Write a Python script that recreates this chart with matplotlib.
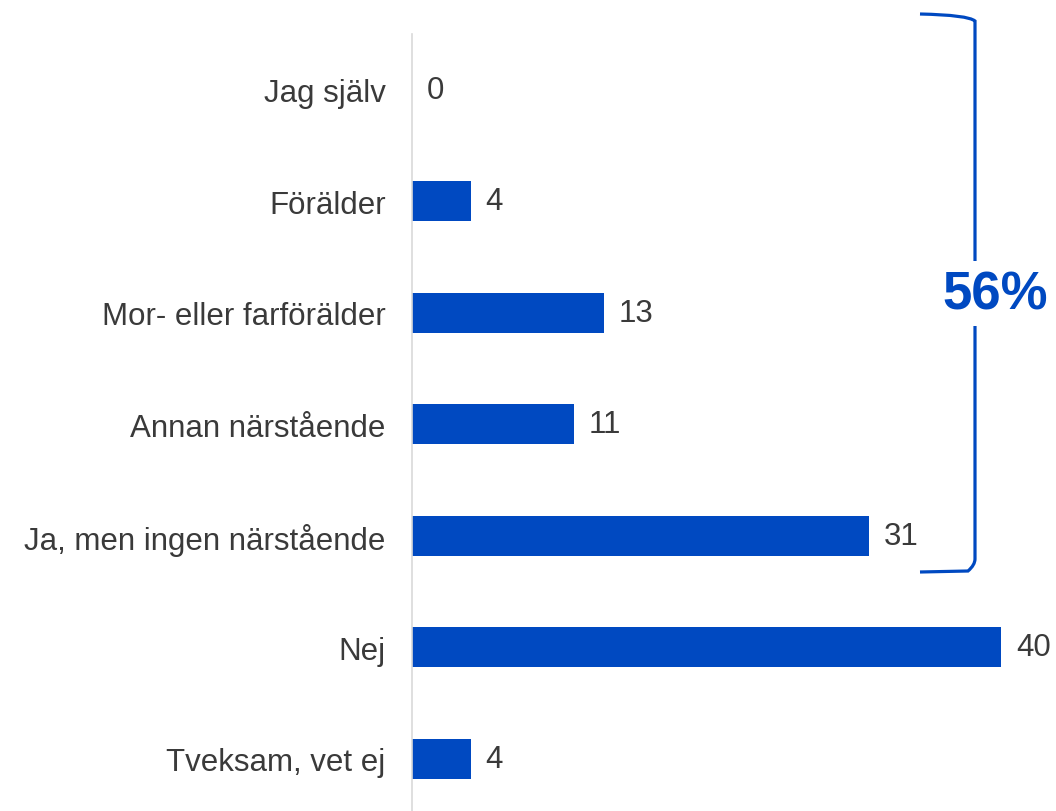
import matplotlib.pyplot as plt
from matplotlib.path import Path
from matplotlib.patches import PathPatch

plt.rcParams['font.family'] = ['Liberation Sans', 'DejaVu Sans']

# data
categories = ['Jag själv', 'Förälder', 'Mor- eller farförälder', 'Annan närstående',
              'Ja, men ingen närstående', 'Nej', 'Tveksam, vet ej']
values = [0, 4, 13, 11, 31, 40, 4]
bracket_label = '56%'

blue = '#0049C1'
text_col = '#3a3a3a'

fig = plt.figure(figsize=(10.56, 8.12), dpi=100)
ax = fig.add_axes([412 / 1056, 0, 1 - 412 / 1056, 777 / 812])

y = list(range(len(categories)))
ax.barh(y, values, height=0.36, color=blue)
ax.set_ylim(len(categories) - 0.5 - 0.03, -0.5)
ax.set_xlim(0, 43.7)

for yi, v in zip(y, values):
    ax.text(v + 1.0, yi, str(v), va='center', ha='left', fontsize=22.5, color=text_col)

ax.set_yticks(y)
ax.set_yticklabels(categories, fontsize=22.5, color=text_col)
ax.tick_params(axis='y', length=0, pad=19)
ax.set_xticks([])
for s in ['top', 'right', 'bottom']:
    ax.spines[s].set_visible(False)
ax.spines['left'].set_color('#d9d9d9')
ax.spines['left'].set_linewidth(1.2)

# bracket overlay in pixel coordinates
ov = fig.add_axes([0, 0, 1, 1], facecolor='none')
ov.set_xlim(0, 1056)
ov.set_ylim(812, 0)
ov.axis('off')

top = Path([(920, 15), (968, 16), (975, 22), (975, 28), (975, 262)],
           [Path.MOVETO, Path.CURVE3, Path.CURVE3, Path.LINETO, Path.LINETO])
bot = Path([(975, 327), (975, 560), (975, 566), (968, 572), (920, 573)],
           [Path.MOVETO, Path.LINETO, Path.CURVE3, Path.CURVE3, Path.LINETO])
for p in (top, bot):
    ov.add_patch(PathPatch(p, fill=False, edgecolor=blue, lw=2.3, capstyle='butt'))

ov.text(995, 296, bracket_label, ha='center', va='center', fontsize=38,
        fontweight='bold', color=blue)

fig.savefig('out.png', dpi=100)
